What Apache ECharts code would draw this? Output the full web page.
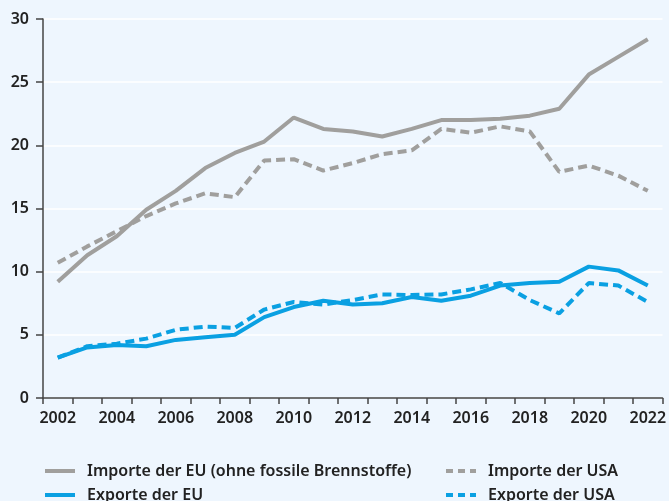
<!DOCTYPE html>
<html>
<head>
<meta charset="utf-8">
<script src="https://cdn.jsdelivr.net/npm/echarts@6/dist/echarts.min.js"></script>
<style>
html,body{margin:0;padding:0;background:#eef6fe;}
#chart{width:669px;height:501px;}
</style>
</head>
<body>
<div id="chart"></div>
<script>
var years=['2002','2003','2004','2005','2006','2007','2008','2009','2010','2011','2012','2013','2014','2015','2016','2017','2018','2019','2020','2021','2022'];
var importeEU=[9.2,11.3,12.8,14.9,16.4,18.2,19.4,20.3,22.2,21.3,21.1,20.7,21.3,22.0,22.0,22.1,22.35,22.9,25.6,27.0,28.4];
var importeUSA=[10.7,12.0,13.2,14.4,15.4,16.2,15.9,18.8,18.9,18.0,18.6,19.3,19.6,21.3,21.0,21.5,21.1,17.9,18.4,17.6,16.4];
var exporteEU=[3.2,4.0,4.2,4.1,4.6,4.8,5.0,6.4,7.2,7.7,7.4,7.5,8.0,7.7,8.1,8.9,9.1,9.2,10.4,10.1,8.9];
var exporteUSA=[3.2,4.1,4.3,4.7,5.4,5.65,5.55,7.0,7.6,7.4,7.75,8.2,8.15,8.2,8.6,9.1,7.75,6.7,9.1,8.9,7.6];
var yTicks=[0,5,10,15,20,25,30];

var grau='#a09f9d', blau='#0aa0e2';
var font='"Noto Sans", sans-serif';
var solidIcon='path://M0,0h30v4h-30z';
var dashIcon='path://M0,0h7v4h-7z M12,0h7v4h-7z M24,0h6v4h-6z';

function line(name,dat,color,dashed){
	return {
		name:name,
		type:'line',
		data:dat,
		symbol:'none',
		lineStyle:{color:color,width:4,type:dashed?[9,5]:'solid',cap:'butt'},
		itemStyle:{color:color},
		z:dashed?3:2
	};
}
function legendItem(name,left,top,icon,w){
	return {
		left:left,top:top,itemWidth:w,itemHeight:4,icon:icon,
		textStyle:{fontFamily:font,fontSize:16,fontWeight:600,color:'#222',padding:[0,0,0,7]},
		data:[name]
	};
}

var myChart=echarts.init(document.getElementById('chart'));
var option={
	backgroundColor:'#eef6fe',
	animation:false,
	grid:{left:43,right:3,top:19,bottom:103},
	legend:[
		legendItem('Importe der EU (ohne fossile Brennstoffe)',40,458,solidIcon,30),
		legendItem('Exporte der EU',40,482,solidIcon,30),
		legendItem('Importe der USA',441,458,dashIcon,30),
		legendItem('Exporte der USA',441,482,dashIcon,30)
	],
	xAxis:{
		type:'category',
		data:years,
		boundaryGap:true,
		axisLine:{lineStyle:{color:'#444',width:1.5}},
		axisTick:{show:true,interval:0,length:6,lineStyle:{color:'#444',width:1.5}},
		axisLabel:{interval:1,fontFamily:font,fontSize:16,fontWeight:600,color:'#222',margin:12},
		splitLine:{show:false}
	},
	yAxis:{
		type:'value',
		min:yTicks[0],
		max:yTicks[yTicks.length-1],
		interval:5,
		axisLine:{show:true,lineStyle:{color:'#444',width:1.5}},
		axisTick:{show:true,length:7,lineStyle:{color:'#444',width:1.5}},
		axisLabel:{fontFamily:font,fontSize:16,fontWeight:600,color:'#222',margin:14},
		splitLine:{lineStyle:{color:'#ffffff',width:1.5}}
	},
	series:[
		line('Importe der EU (ohne fossile Brennstoffe)',importeEU,grau,false),
		line('Importe der USA',importeUSA,grau,true),
		line('Exporte der EU',exporteEU,blau,false),
		line('Exporte der USA',exporteUSA,blau,true)
	]
};
myChart.setOption(option);
</script>
</body>
</html>
